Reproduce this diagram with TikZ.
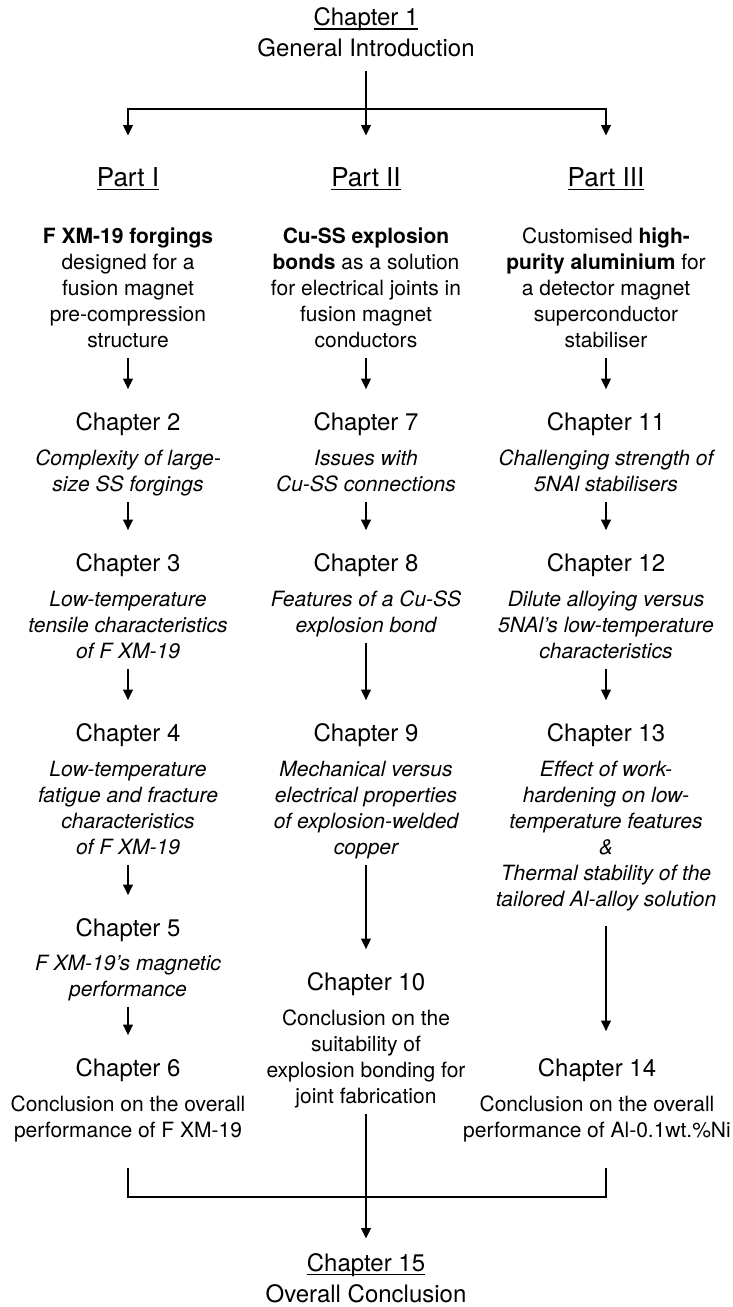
\documentclass[tikz,border=0pt]{standalone}
\usepackage{fontspec}
\setmainfont{TeX Gyre Heros}
\usepackage{tikz}
\usetikzlibrary{arrows.meta,calc}
\newcommand{\undr}[1]{\setbox0=\hbox{#1}\rlap{\rule[-2pt]{\wd0}{0.6pt}}\box0}
\tikzset{
  head/.style = {font=\fontsize{12}{14.4}\selectfont, inner sep=0pt, anchor=base},
  part/.style = {font=\fontsize{13}{15.6}\selectfont, inner sep=0pt, anchor=base},
  desc/.style = {font=\fontsize{10.5}{13}\selectfont, align=center, inner sep=0pt,
                 anchor=north, execute at end node=\strut},
  note/.style = {desc, font=\fontsize{10.5}{13}\selectfont\itshape},
  line/.style = {line width=1.2pt},
  arr/.style  = {line, -{Triangle[length=5.3pt,width=4.7pt]},
                 shorten <=1.3pt, shorten >=11.5pt},
}
\begin{document}
\begin{tikzpicture}[x=0.5pt, y=-0.5pt]
\useasboundingbox (0,0) rectangle (733,1307);

% ---------------- introduction ----------------------------------------
\node[head] (ch1) at (366,25.6) {\undr{Chapter 1}};
\node[head] (intro) at (366,56.6) {General Introduction};
\coordinate (split) at (366,109);

\node[part] (p1) at (128,186.4) {\undr{Part I}};
\node[part] (p2) at (366,186.4) {\undr{Part II}};
\node[part] (p3) at (606,186.4) {\undr{Part III}};

\draw[line, shorten <=7pt] (intro) -- (split);
\draw[arr, shorten <=0pt, shorten >=15.7pt] (split) -| (p1);
\draw[arr, shorten <=0pt, shorten >=15.7pt] (split) -- (p2);
\draw[arr, shorten <=0pt, shorten >=15.7pt] (split) -| (p3);

% ---------------- part I ----------------------------------------------
\node[desc] (ds1) at (128,227.3)
  {\textbf{F XM-19 forgings}\\designed for a\\fusion magnet\\pre-compression\\structure};
\node[head] (ch2) at (128,430.6) {Chapter 2};
\node[note] (ds2) at (128,449.3) {Complexity of large-\\size SS forgings};
\node[head] (ch3) at (128,571.6) {Chapter 3};
\node[note] (ds3) at (128,590.3) {Low-temperature\\tensile characteristics\\of F XM-19};
\node[head] (ch4) at (128,741.6) {Chapter 4};
\node[note] (ds4) at (128,760.3)
  {Low-temperature\\fatigue and fracture\\characteristics\\of F XM-19};
\node[head] (ch5) at (128,936.6) {Chapter 5};
\node[note] (ds5) at (128,954.3) {F XM-19’s magnetic\\performance};
\node[head] (ch6) at (128,1076.6) {Chapter 6};
\node[desc] (ds6) at (128,1095.3) {Conclusion on the overall\\performance of F XM-19};

\draw[arr] (ds1) -- (ch2);
\draw[arr] (ds2) -- (ch3);
\draw[arr] (ds3) -- (ch4);
\draw[arr] (ds4) -- (ch5);
\draw[arr] (ds5) -- (ch6);

% ---------------- part II ---------------------------------------------
\node[desc] (ds7) at (366,227.3)
  {\textbf{Cu-SS explosion}\\\textbf{bonds} as a solution\\for electrical joints in\\fusion magnet\\conductors};
\node[head] (ch7) at (366,430.6) {Chapter 7};
\node[note] (ds8) at (366,449.3) {Issues with\\Cu-SS connections};
\node[head] (ch8) at (366,571.6) {Chapter 8};
\node[note] (ds9) at (366,590.3) {Features of a Cu-SS\\explosion bond};
\node[head] (ch9) at (366,741.6) {Chapter 9};
\node[note] (ds10) at (366,760.3)
  {Mechanical versus\\electrical properties\\of explosion-welded\\copper};
\node[head] (ch10) at (366,990.6) {Chapter 10};
\node[desc] (ds11) at (366,1009.3)
  {Conclusion on the\\suitability of\\explosion bonding for\\joint fabrication};

\draw[arr] (ds7) -- (ch7);
\draw[arr] (ds8) -- (ch8);
\draw[arr] (ds9) -- (ch9);
\draw[arr] (ds10) -- (ch10);

% ---------------- part III --------------------------------------------
\node[desc] (ds12) at (606,227.3)
  {Customised \textbf{high-}\\\textbf{purity aluminium} for\\a detector magnet\\superconductor\\stabiliser};
\node[head] (ch11) at (606,430.6) {Chapter 11};
\node[note] (ds13) at (606,449.3) {Challenging strength of\\5NAl stabilisers};
\node[head] (ch12) at (606,571.6) {Chapter 12};
\node[note] (ds14) at (606,590.3)
  {Dilute alloying versus\\5NAl’s low-temperature\\characteristics};
\node[head] (ch13) at (606,741.6) {Chapter 13};
\node[note] (ds15) at (606,760.3)
  {Effect of work-\\hardening on low-\\temperature features\\\&\\Thermal stability of the\\tailored Al-alloy solution};
\node[head] (ch14) at (597,1076.6) {Chapter 14};
\node[desc] (ds16) at (597,1095.3)
  {Conclusion on the overall\\performance of Al-0.1wt.\%Ni};

\draw[arr] (ds12) -- (ch11);
\draw[arr] (ds13) -- (ch12);
\draw[arr] (ds14) -- (ch13);
\draw[arr, shorten <=6pt, shorten >=13.5pt] (ds15) -- (ds15 |- ch14.north);

% ---------------- overall conclusion ----------------------------------
\coordinate (bl) at (128,1168);
\coordinate (br) at (606,1168);
\coordinate (join) at (366,1197);
\draw[line] (bl) |- (join) -| (br);

\node[head] (ch15) at (366,1271) {\undr{Chapter 15}};
\node[head] (outro) at (366,1302) {Overall Conclusion};

\draw[arr, shorten <=1pt, shorten >=7pt] (ds11) -- (ch15);

\end{tikzpicture}
\end{document}
